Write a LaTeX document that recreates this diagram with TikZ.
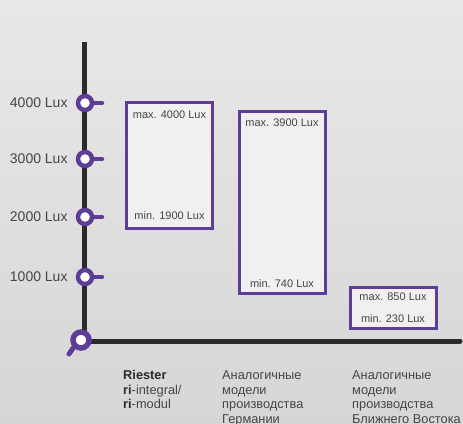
\documentclass[tikz,border=0pt]{standalone}
\usepackage{fontspec}
\setmainfont{Liberation Sans}
\usetikzlibrary{positioning}
\definecolor{violet}{HTML}{5E3D96}
\definecolor{axisgray}{HTML}{2A2A2A}
\definecolor{txtgray}{HTML}{454545}
\definecolor{boxfill}{HTML}{F0F0F0}
\tikzset{tickring/.style = {draw=violet, fill=white, circle, line width=4.5, inner sep=0, minimum size=14},
  luxbox/.style = {draw=violet, fill=boxfill, line width=3, inner sep=0, minimum width=86, minimum height=#1},
  boxtext/.style = {text=txtgray, inner sep=0, font=\fontsize{11}{12}\selectfont},
  axislabel/.style = {text=txtgray, inner sep=0, font=\fontsize{14}{16}\selectfont},
  column/.style = {text=txtgray, inner sep=0, anchor=north west, align=left, font=\fontsize{12.8}{14.5}\selectfont}}

\begin{document}
\begin{tikzpicture}[x=1pt, y=-1pt]
      \useasboundingbox (0,0) rectangle (463,423);
      \clip (0,0) rectangle (463,423);
      \shade [top color=black!9, bottom color=black!16] (0,0) rectangle (463,423);

      \coordinate (top) at (84, 42);
      \coordinate (o) at (84, 341);
      \coordinate (right) at (460, 341);
      \draw [axisgray, line width=5] (top) -- (o);
      \draw [axisgray, line width=5, line cap=round] (o) -- (right);

      \foreach \y/\lux [count=\i] in {103/4000, 159/3000, 217/2000, 277/1000} {
        \node [tickring] (t\i) at (85, \y) {};
        \draw [violet, line width=4, line cap=round] (t\i.east) -- ++(8, 0);
        \node [axislabel, left=8 of t\i] {\lux{} Lux};
      }

      \node [draw=violet, fill=white, circle, line width=5.5, inner sep=0, minimum size=16] (zero) at (81, 340) {};
      \coordinate (handle) at (69, 354);
      \draw [violet, line width=5, line cap=round] (zero.225) -- (handle);

      \node [luxbox=126] (r1) at (169.5, 165) {};
      \node [boxtext] at ([yshift=-14]r1.north) {max. 4000 Lux};
      \node [boxtext] at ([yshift=14]r1.south) {min. 1900 Lux};

      \node [luxbox=182] (r2) at (282, 202.5) {};
      \node [boxtext] at ([yshift=-13]r2.north) {max. 3900 Lux};
      \node [boxtext] at ([yshift=11]r2.south) {min. 740 Lux};

      \node [luxbox=41] (r3) at (393, 308) {};
      \node [boxtext] at ([yshift=-11]r3.north) {max. 850 Lux};
      \node [boxtext] at ([yshift=11]r3.south) {min. 230 Lux};

      \node [column] (c1) at (123, 370.5) {\textbf{\color{axisgray}Riester}\\\textbf{\color{axisgray}ri}-integral/\\\textbf{\color{axisgray}ri}-modul};
      \node [column] (c2) at (222, 370.5) {Аналогичные\\модели\\производства\\Германии};
      \node [column] (c3) at (352, 370.5) {Аналогичные\\модели\\производства\\Ближнего Востока};
    \end{tikzpicture}
\end{document}
